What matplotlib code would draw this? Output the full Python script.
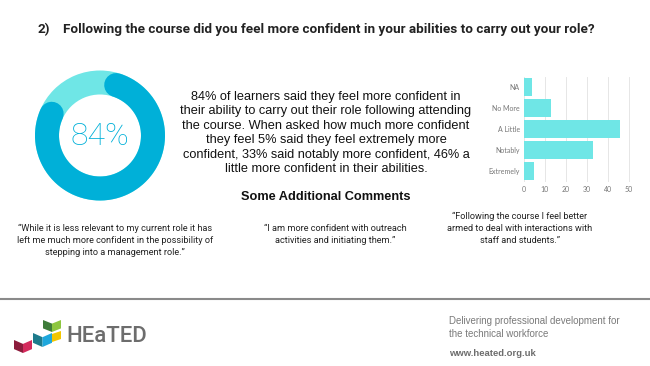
import numpy as np
import matplotlib.pyplot as plt
from matplotlib.patches import Wedge, Polygon

# ==============================
# Data
# ==============================
donut_pct = 84
categories = ["Extremely", "Notably", "A Little", "No More", "NA"]
counts = [5, 33, 46, 13, 4]
x_ticks = [0, 10, 20, 30, 40, 50]

title_num = "2)"
title_text = "Following the course did you feel more confident in your abilities to carry out your role?"
summary_lines = [
    "84% of learners said they feel more confident in",
    "their ability to carry out their role following attending",
    "the course. When asked how much more confident",
    "they feel 5% said they feel extremely more",
    "confident, 33% said notably more confident, 46% a",
    "little more confident in their abilities.",
]
comments = [
    "\u201cWhile it is less relevant to my current role it has\nleft me much more confident in the possibility of\nstepping into a management role.\u201d",
    "\u201cI am more confident with outreach\nactivities and initiating them.\u201d",
    "\u201cFollowing the course I feel better\narmed to deal with interactions with\nstaff and students.\u201d",
]

DARK = "#00b0d8"
LIGHT = "#6fe6e6"
BAR = "#6fe6e6"

W, H = 650, 366
fig = plt.figure(figsize=(6.5, 3.66), dpi=100)
bg = fig.add_axes([0, 0, 1, 1])
bg.set_xlim(0, W)
bg.set_ylim(H, 0)
bg.axis("off")

# ==============================
# Title
# ==============================
bg.text(37, 30, title_num, fontsize=9.7, fontweight="bold", family="Roboto",
        color="#222222", va="center")
bg.text(63, 30, title_text, fontsize=9.7, fontweight="bold", family="Roboto",
        color="#222222", va="center")

# ==============================
# Donut
# ==============================
cx, cy, r_out, ring = 100, 135.5, 65, 24
r_mid = r_out - ring / 2
bg.add_patch(Wedge((cx, cy), r_out, 0, 360, width=ring, facecolor=LIGHT, edgecolor="none"))
gap_deg = (100 - donut_pct) / 100 * 360
cap_deg = np.degrees((ring / 2) / r_mid)
gap_center = 114
a_start = gap_center + gap_deg / 2 + cap_deg
a_end = gap_center - gap_deg / 2 - cap_deg + 360
theta = np.radians(np.linspace(a_start, a_end, 300))
bg.plot(cx + r_mid * np.cos(theta), cy - r_mid * np.sin(theta),
        color=DARK, lw=ring * 0.72, solid_capstyle="round")
bg.text(cx, cy + 1, f"{donut_pct}%", fontsize=23, family="Roboto", fontweight="light",
        color=DARK, ha="center", va="center")

# ==============================
# Summary paragraph
# ==============================
for i, line in enumerate(summary_lines):
    bg.text(326, 97 + i * 14.4, line, fontsize=9.2, family="Liberation Sans",
            color="#111111", ha="center", va="center")
bg.text(326, 197, "Some Additional Comments", fontsize=9.2, family="Liberation Sans",
        fontweight="bold", color="#111111", ha="center", va="center")

# ==============================
# Comments
# ==============================
comment_pos = [(115, 224), (335, 224), (520, 212)]
for (x, y), txt in zip(comment_pos, comments):
    bg.text(x, y, txt, fontsize=6.6, family="Roboto", color="#222222",
            ha="center", va="top", linespacing=1.45)

# ==============================
# Footer
# ==============================
bg.plot([0, W], [299, 299], color="#8a8a8a", lw=1.5)

# logo blocks (open-box shapes)
def book(x0, y0, w, h, c_left, c_right):
    bg.add_patch(Polygon([(x0, y0), (x0 + w / 2, y0 + h * 0.3), (x0 + w / 2, y0 + h),
                          (x0, y0 + h * 0.7)], closed=True, facecolor=c_left, edgecolor="none"))
    bg.add_patch(Polygon([(x0 + w / 2, y0 + h * 0.3), (x0 + w, y0), (x0 + w, y0 + h * 0.7),
                          (x0 + w / 2, y0 + h)], closed=True, facecolor=c_right, edgecolor="none"))

book(14, 340, 18, 13, "#8c1c3c", "#d42a5c")
book(33, 333, 19, 14, "#1d7b8c", "#1ea7dc")
book(43, 320, 18, 12, "#3e7c3a", "#8dc63f")
bg.add_patch(Polygon([(52, 334), (61, 331), (61, 339), (52, 342)], closed=True,
                     facecolor="#f2c600", edgecolor="none"))
bg.text(66, 336, "HEaTED", fontsize=16, family="Roboto", fontweight="medium",
        color="#6d6d6d", va="center")

bg.text(449, 327.5, "Delivering professional development for\nthe technical workforce",
        fontsize=7.0, family="Liberation Sans", color="#7a7a7a", va="center", linespacing=1.4)
bg.text(449, 353, "www.heated.org.uk", fontsize=6.8, family="Liberation Sans",
        fontweight="bold", color="#6d6d6d", va="center")

# ==============================
# Bar chart
# ==============================
ax = fig.add_axes([524 / W, 1 - 181.5 / H, 109 / W, 105 / H])
y = np.arange(len(categories))
ax.barh(y, counts, height=0.88, color=BAR, zorder=2)
ax.set_xlim(0, 52)
ax.set_ylim(-0.5, len(categories) - 0.5)
ax.set_xticks(x_ticks)
ax.set_yticks(y)
ax.set_yticklabels(categories)
ax.grid(axis="x", color="#e6e6e6", lw=0.7, zorder=0)
for s in ax.spines.values():
    s.set_visible(False)
ax.tick_params(length=0, labelsize=5, labelcolor="#777777", pad=3)
for lab in ax.get_xticklabels() + ax.get_yticklabels():
    lab.set_family("Lato")

fig.savefig("out.png", dpi=100)
